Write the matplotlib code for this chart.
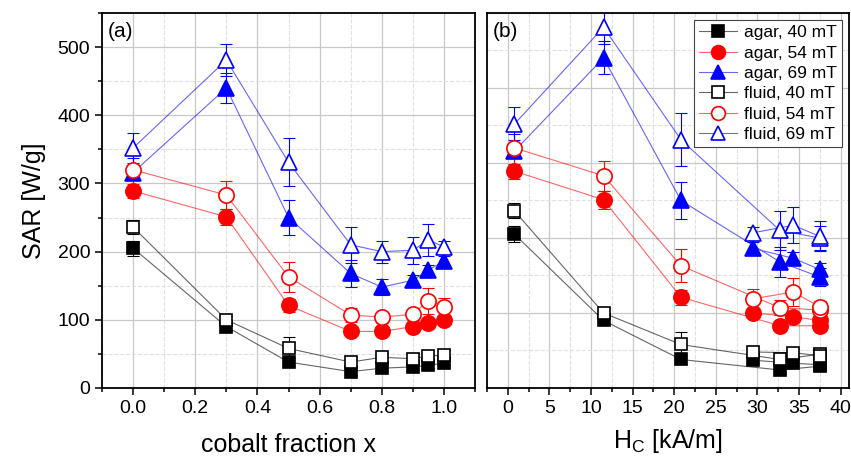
import numpy as np
import matplotlib
matplotlib.use("Agg")
import matplotlib.pyplot as plt
from matplotlib.colors import to_rgba
from matplotlib.ticker import MultipleLocator

plt.rcParams['font.family'] = ['Liberation Sans', 'DejaVu Sans']

# cobalt fraction and matching coercivity
x_co = [0.0, 0.3, 0.5, 0.7, 0.8, 0.9, 0.95, 1.0]
h_c = [0.8, 11.5, 20.8, 32.7, 37.5, 37.5, 34.3, 29.5]

# SAR values [W/g]
agar_40 = [205, 90, 38, 24, 29, 31, 33, 37]
agar_54 = [289, 251, 121, 83, 83, 90, 95, 100]
agar_69 = [316, 440, 250, 168, 148, 158, 173, 186]
fluid_40 = [236, 100, 58, 38, 45, 43, 47, 48]
fluid_54 = [320, 283, 163, 107, 104, 108, 128, 119]
fluid_69 = [352, 481, 331, 210, 200, 202, 217, 207]

# error bars
agar_40_err = [11, 6, 6, 5, 4, 4, 4, 4]
agar_54_err = [10, 12, 10, 6, 5, 5, 5, 5]
agar_69_err = [22, 22, 25, 20, 12, 8, 8, 8]
fluid_40_err = [10, 6, 17, 8, 6, 8, 5, 8]
fluid_54_err = [25, 20, 22, 10, 8, 8, 19, 13]
fluid_69_err = [22, 23, 35, 26, 16, 20, 24, 8]

labels = ['agar, 40 mT', 'agar, 54 mT', 'agar, 69 mT',
          'fluid, 40 mT', 'fluid, 54 mT', 'fluid, 69 mT']
series = [agar_40, agar_54, agar_69, fluid_40, fluid_54, fluid_69]
errors = [agar_40_err, agar_54_err, agar_69_err,
          fluid_40_err, fluid_54_err, fluid_69_err]
colors = ['black', 'red', 'blue', 'black', 'red', 'blue']
markers = ['s', 'o', '^', 's', 'o', '^']
msizes = [9, 11, 11, 9, 11, 11]
filled = [True, True, True, False, False, False]

fig = plt.figure(figsize=(8.51, 4.59), dpi=100)
ax1 = fig.add_axes([0.1199, 0.1547, 0.4383, 0.817])
ax2 = fig.add_axes([0.5723, 0.1547, 0.4254, 0.817])


def draw(ax, xs):
    for y, e, c, m, ms, f, lab in zip(series, errors, colors, markers,
                                       msizes, filled, labels):
        line_c = to_rgba(c, 0.6)
        ax.errorbar(xs, y, yerr=e, color=c, ecolor=c, elinewidth=0.8,
                    capsize=4, capthick=0.8, fmt='none', zorder=3)
        ax.plot(xs, y, color=line_c, lw=0.8, zorder=2)
        ax.plot(xs, y, ls='none', marker=m, ms=ms,
                mfc=c if f else 'white', mec=c, mew=1.2, zorder=4)
        # legend proxy
        ax.plot([], [], color=line_c, lw=0.8, marker=m, ms=ms * 0.9,
                mfc=c if f else 'white', mec=c, mew=1.2, label=lab)


def style(ax):
    ax.grid(which='major', color='#c8c8c8', lw=0.9, ls='-', zorder=0)
    ax.grid(which='minor', color='#e0e0e0', lw=0.8, ls='--', zorder=0)
    ax.set_axisbelow(True)
    for s in ax.spines.values():
        s.set_linewidth(1.3)
    ax.tick_params(which='both', direction='out', top=False, right=False,
                   labelsize=14, width=1.1)
    ax.tick_params(which='major', length=5)
    ax.tick_params(which='minor', length=3)


draw(ax1, x_co)
ax1.set_xlim(-0.1, 1.1)
ax1.set_ylim(0, 550)
ax1.xaxis.set_major_locator(MultipleLocator(0.2))
ax1.xaxis.set_minor_locator(MultipleLocator(0.1))
ax1.yaxis.set_major_locator(MultipleLocator(100))
ax1.yaxis.set_minor_locator(MultipleLocator(50))
style(ax1)
ax1.set_xlabel('cobalt fraction x', fontsize=18, labelpad=12)
ax1.set_ylabel('SAR [W/g]', fontsize=18, labelpad=8)
ax1.text(0.015, 0.975, '(a)', transform=ax1.transAxes, fontsize=15,
         ha='left', va='top')

draw(ax2, h_c)
ax2.set_xlim(-2.5, 41)
ax2.set_ylim(0, 500)
ax2.xaxis.set_major_locator(MultipleLocator(5))
ax2.xaxis.set_minor_locator(MultipleLocator(2.5))
ax2.yaxis.set_major_locator(MultipleLocator(100))
ax2.yaxis.set_minor_locator(MultipleLocator(50))
style(ax2)
ax2.tick_params(axis='y', which='both', left=False, labelleft=False)
ax2.set_xlabel('H$_\\mathregular{C}$ [kA/m]', fontsize=18, labelpad=7)
ax2.text(0.015, 0.975, '(b)', transform=ax2.transAxes, fontsize=15,
         ha='left', va='top')

leg = ax2.legend(loc='upper right', fontsize=12.5, frameon=True,
                 fancybox=False, edgecolor='#444444', framealpha=1,
                 borderpad=0.3, labelspacing=0.3, handlelength=2.2,
                 handletextpad=0.4, borderaxespad=0.4, numpoints=1)
leg.get_frame().set_linewidth(0.8)

fig.savefig('out.png', dpi=100)
